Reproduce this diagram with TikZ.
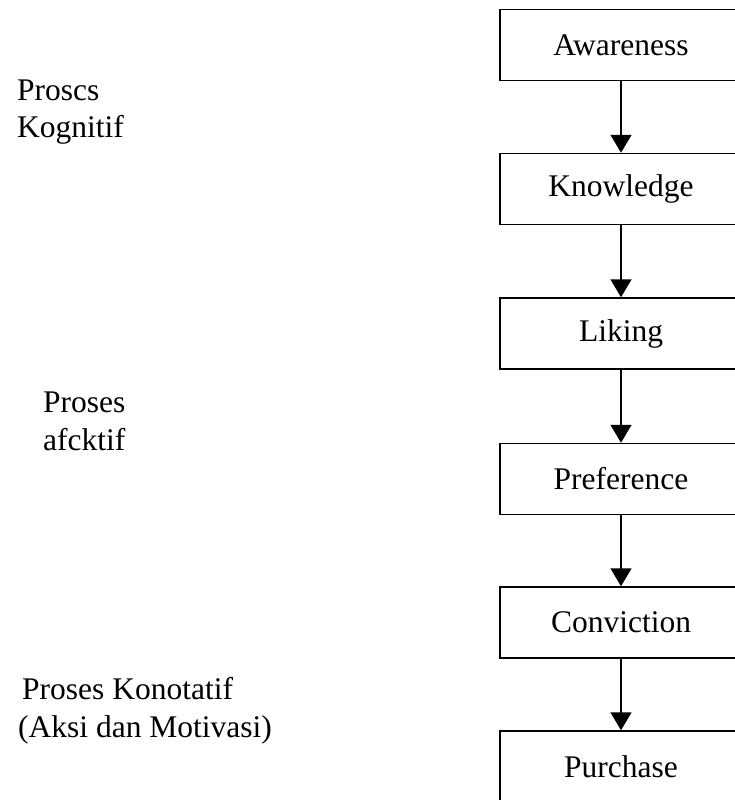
\documentclass[tikz,border=0pt]{standalone}
\usepackage{fontspec}
\setmainfont{Liberation Serif}
\usetikzlibrary{arrows.meta}
\begin{document}
\begin{tikzpicture}[x=1pt,y=-1pt,
  stagebox/.style={draw, line width=1.5pt, minimum width=242pt, minimum height=71pt, inner sep=0pt, font=\fontsize{31.5}{36}\selectfont},
  sidelabel/.style={anchor=base west, inner sep=0pt, font=\fontsize{31.5}{36}\selectfont},
  flow/.style={line width=1.5pt, -{Triangle[width=21pt,length=18pt]}}]
\useasboundingbox (0,0) rectangle (734,800);
\node[stagebox] (aw) at (621,45) {Awareness};
\node[stagebox] (kn) at (621,189) {Knowledge};
\node[stagebox] (li) at (621,333.5) {Liking};
\node[stagebox] (pr) at (621,479) {Preference};
\node[stagebox] (co) at (621,622.5) {Conviction};
\node[stagebox] (pu) at (621,766.5) {Purchase};
\draw[flow] (aw.south) -- (kn.north);
\draw[flow] (kn.south) -- (li.north);
\draw[flow] (li.south) -- (pr.north);
\draw[flow] (pr.south) -- (co.north);
\draw[flow] (co.south) -- (pu.north);
\node[sidelabel] (k1) at (17,100) {Proscs};
\node[sidelabel] (k2) at (17,137) {Kognitif};
\node[sidelabel] (a1) at (43,412) {Proses};
\node[sidelabel] (a2) at (43,450) {afcktif};
\node[sidelabel] (c1) at (22,699) {Proses Konotatif};
\node[sidelabel] (c2) at (18,737) {(Aksi dan Motivasi)};
\end{tikzpicture}
\end{document}
